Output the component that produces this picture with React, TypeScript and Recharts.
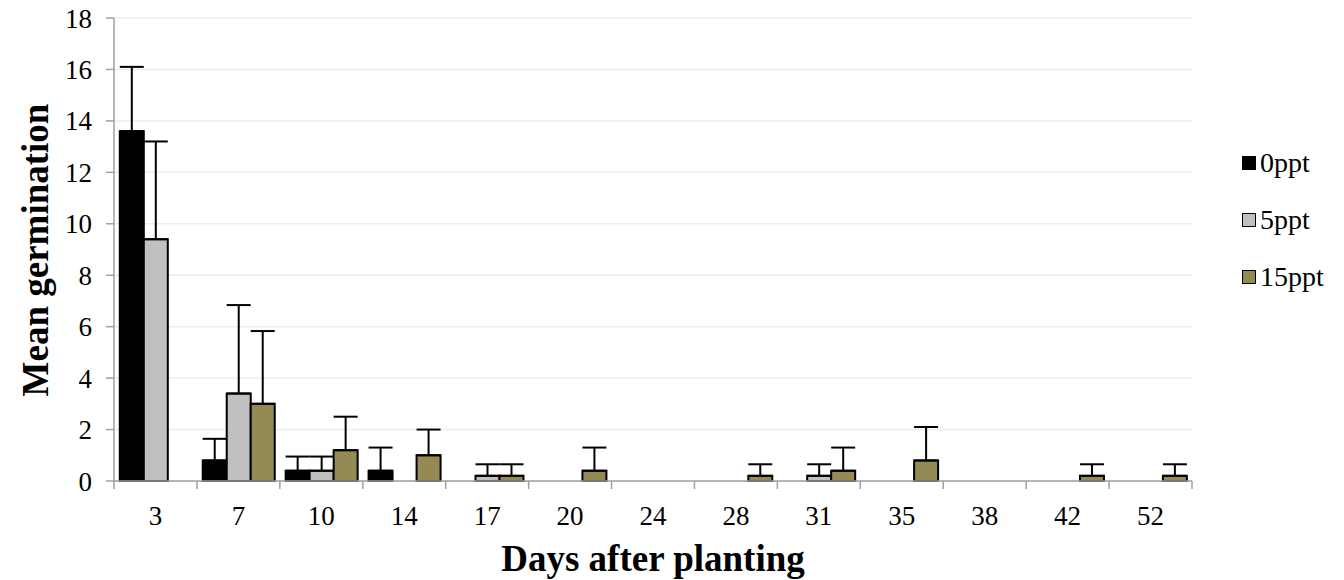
import { BarChart, Bar, XAxis, YAxis, CartesianGrid, ErrorBar } from "recharts";

const days = ["3", "7", "10", "14", "17", "20", "24", "28", "31", "35", "38", "42", "52"];
const ppt0 = [13.6, 0.8, 0.4, 0.4, 0, 0, 0, 0, 0, 0, 0, 0, 0];
const ppt5 = [9.4, 3.4, 0.4, 0, 0.2, 0, 0, 0, 0.2, 0, 0, 0, 0];
const ppt15 = [0, 3.0, 1.2, 1.0, 0.2, 0.4, 0, 0.2, 0.4, 0.8, 0, 0.2, 0.2];
const err0 = [2.5, 0.84, 0.55, 0.9, 0, 0, 0, 0, 0, 0, 0, 0, 0];
const err5 = [3.8, 3.44, 0.55, 0, 0.45, 0, 0, 0, 0.45, 0, 0, 0, 0];
const err15 = [0, 2.83, 1.3, 1.0, 0.45, 0.9, 0, 0.45, 0.9, 1.3, 0, 0.45, 0.45];
const yTicks = [0, 2, 4, 6, 8, 10, 12, 14, 16, 18];

const series = [
  { key: "p0", err: "e0", name: "0ppt", color: "#000000" },
  { key: "p5", err: "e5", name: "5ppt", color: "#c0c0c0" },
  { key: "p15", err: "e15", name: "15ppt", color: "#948a54" },
];

const data = days.map((d, i) => ({
  day: d,
  p0: ppt0[i],
  p5: ppt5[i],
  p15: ppt15[i],
  e0: err0[i] ? [0, err0[i]] : null,
  e5: err5[i] ? [0, err5[i]] : null,
  e15: err15[i] ? [0, err15[i]] : null,
}));

const FONT = "'Liberation Serif', 'Times New Roman', serif";
const W = 1344;
const H = 580;
const LEFT = 114;
const RIGHT = 152;
const TOP = 18;
const BOTTOM = 99;
const AXIS = "#a0a0a0";
const band = (W - LEFT - RIGHT) / days.length;

function XTick(props: any) {
  const { x, payload, index } = props;
  const base = H - BOTTOM;
  const left = x - band / 2;
  return (
    <g>
      <line x1={left} y1={base} x2={left} y2={base + 8} stroke={AXIS} strokeWidth={1.5} />
      {index === days.length - 1 && (
        <line x1={left + band} y1={base} x2={left + band} y2={base + 8} stroke={AXIS} strokeWidth={1.5} />
      )}
      <text x={x} y={base + 44} textAnchor="middle" fontFamily={FONT} fontSize={27} fill="#000">
        {payload.value}
      </text>
    </g>
  );
}

export default function App() {
  return (
    <div style={{ width: W, height: H, position: "relative", fontFamily: FONT }}>
      <style>{"body{margin:0}"}</style>
      <BarChart
        width={W}
        height={H}
        data={data}
        margin={{ top: TOP, right: RIGHT, bottom: 0, left: 0 }}
        barCategoryGap="7%"
        barGap={0}
      >
        <CartesianGrid vertical={false} stroke="#ededed" strokeWidth={1.5} />
        <XAxis
          dataKey="day"
          height={BOTTOM}
          axisLine={{ stroke: AXIS, strokeWidth: 1.5 }}
          tickLine={false}
          tick={<XTick />}
          interval={0}
        />
        <XAxis
          xAxisId="top"
          dataKey="day"
          orientation="top"
          height={0}
          tick={false}
          tickLine={false}
          axisLine={{ stroke: AXIS, strokeWidth: 1.5 }}
        />
        <YAxis
          width={LEFT}
          domain={[0, 18]}
          ticks={yTicks}
          interval={0}
          axisLine={{ stroke: AXIS, strokeWidth: 1.5 }}
          tickLine={{ stroke: AXIS, strokeWidth: 1.5 }}
          tickSize={8}
          tickMargin={14}
          tick={{ fontFamily: FONT, fontSize: 27, fill: "#000" }}
        />
        <YAxis
          yAxisId="right"
          orientation="right"
          width={0}
          domain={[0, 18]}
          tick={false}
          tickLine={false}
          axisLine={{ stroke: AXIS, strokeWidth: 1.5 }}
        />
        {series.map((s) => (
          <Bar
            key={s.key}
            dataKey={s.key}
            name={s.name}
            fill={s.color}
            stroke="#000"
            strokeWidth={2}
            isAnimationActive={false}
          >
            <ErrorBar dataKey={s.err} width={12} stroke="#000" strokeWidth={2} direction="y" />
          </Bar>
        ))}
      </BarChart>

      <div
        style={{
          position: "absolute",
          left: 35,
          top: (TOP + H - BOTTOM) / 2,
          transform: "translate(-50%, -50%) rotate(-90deg)",
          fontSize: 37,
          fontWeight: "bold",
          whiteSpace: "nowrap",
          lineHeight: 1,
        }}
      >
        Mean germination
      </div>
      <div
        style={{
          position: "absolute",
          left: LEFT + (W - LEFT - RIGHT) / 2,
          top: 558,
          transform: "translate(-50%, -50%)",
          fontSize: 37,
          fontWeight: "bold",
          whiteSpace: "nowrap",
          lineHeight: 1,
        }}
      >
        Days after planting
      </div>

      <div style={{ position: "absolute", left: 1242, top: 134, fontSize: 28, color: "#000" }}>
        {series.map((s) => (
          <div key={s.key} style={{ display: "flex", alignItems: "center", height: 57 }}>
            <span
              style={{
                display: "inline-block",
                width: 12,
                height: 12,
                background: s.color,
                border: "1.5px solid #000",
                marginRight: 4,
              }}
            />
            {s.name}
          </div>
        ))}
      </div>
    </div>
  );
}
